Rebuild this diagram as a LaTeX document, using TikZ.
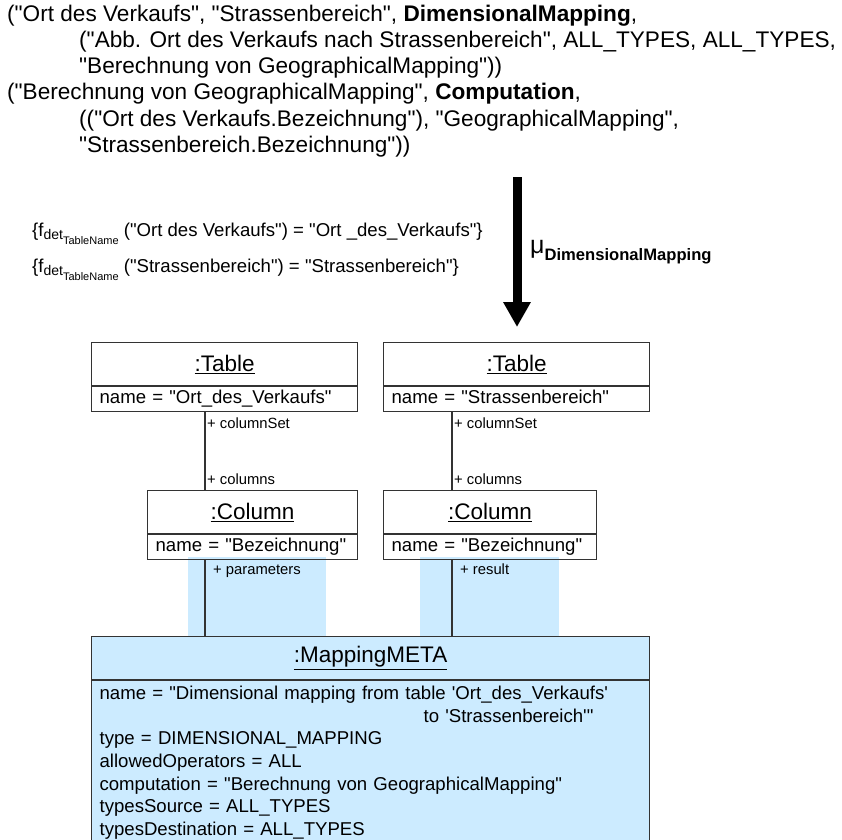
\documentclass[tikz,border=0pt]{standalone}
\usepackage{fontspec}
\setmainfont{Liberation Sans}[Ligatures=TeXOff]
\usetikzlibrary{arrows.meta}
\definecolor{umlline}{HTML}{333333}
\definecolor{metafill}{HTML}{CCEBFF}
\tikzset{>=Stealth,
  spec/.style={anchor=base west, inner sep=0pt, font=\fontsize{22.6}{27}\selectfont},
  objtitle/.style={draw=umlline, line width=1.2pt, text width=#1, align=center,
    minimum height=43pt, inner xsep=8pt, inner ysep=0pt, font=\fontsize{22.5}{27}\selectfont},
  objattr/.style={draw=umlline, line width=1.2pt, text width=#1, align=left,
    text height=13.6pt, text depth=4.2pt,
    minimum height=24.5pt, inner xsep=8pt, inner ysep=3.5pt, font=\fontsize{18.6}{22.4}\selectfont},
  metaattr/.style={draw=umlline, line width=1.2pt, text width=#1, align=left, fill=metafill,
    inner xsep=8pt, inner ysep=5.5pt, font=\fontsize{18.6}{22.6}\selectfont},
  role/.style={anchor=base west, inner sep=0pt, font=\fontsize{14.8}{16}\selectfont},
  assoc/.style={draw=umlline, line width=1.6pt},
  fline/.style={anchor=base west, inner sep=0pt, font=\fontsize{18.6}{22}\selectfont}}
\newcommand\detsub{\raisebox{-3pt}{\fontsize{14}{14}\selectfont det\raisebox{-5pt}{\fontsize{11}{11}\selectfont TableName}}}

\begin{document}
\begin{tikzpicture}[x=1pt, y=-1pt]
\clip (0,0) rectangle (842,839);

% specification of the mapping
\node[spec] (spec1) at (7,21) {("Ort des Verkaufs", "Strassenbereich", \textbf{DimensionalMapping},};
\node[spec] (spec2) at (79,47) {("Abb. Ort des Verkaufs nach Strassenbereich", ALL\_TYPES, ALL\_TYPES,};
\node[spec] (spec3) at (79,73) {"Berechnung von GeographicalMapping"))};
\node[spec] (spec4) at (7,99) {("Berechnung von GeographicalMapping", \textbf{Computation},};
\node[spec] (spec5) at (79,126) {(("Ort des Verkaufs.Bezeichnung"), "GeographicalMapping",};
\node[spec] (spec6) at (79,152) {"Strassenbereich.Bezeichnung"))};

% table names
\node[fline] (fOrt) at (32,236) {\{f\detsub{} ("Ort des Verkaufs") = "Ort \_des\_Verkaufs"\}};
\node[fline] (fStr) at (32,272) {\{f\detsub{} ("Strassenbereich") = "Strassenbereich"\}};

% transformation arrow
\coordinate (mapFrom) at (517,177);
\coordinate (mapTo) at (517,327);
\draw[line width=9pt, -{Triangle[width=26pt,length=25pt]}] (mapFrom) -- (mapTo);
\node[anchor=base west, inner sep=0pt] (muLabel) at (530,253)
  {{\fontsize{25}{25}\selectfont μ}\raisebox{-7pt}{\fontsize{16.6}{17}\selectfont\bfseries DimensionalMapping}};

% highlighted links
\fill[metafill] (188,557) rectangle (326,637);
\fill[metafill] (420,557) rectangle (559,637);

% objects
\node[objtitle=250pt, anchor=north west] (ortTitle) at (91,342) {\underline{:Table}};
\node[objattr=250pt, anchor=north] (ortAttr) at (ortTitle.south) {name = "Ort\_des\_Verkaufs"};
\node[objtitle=250pt, anchor=north west] (strTitle) at (383,342) {\underline{:Table}};
\node[objattr=250pt, anchor=north] (strAttr) at (strTitle.south) {name = "Strassenbereich"};

\node[objtitle=194pt, anchor=north west] (ortColTitle) at (147,490) {\underline{:Column}};
\node[objattr=194pt, anchor=north] (ortColAttr) at (ortColTitle.south) {name = "Bezeichnung"};
\node[objtitle=197pt, anchor=north west] (strColTitle) at (383,490) {\underline{:Column}};
\node[objattr=197pt, anchor=north] (strColAttr) at (strColTitle.south) {name = "Bezeichnung"};

\node[objtitle=542pt, fill=metafill, anchor=north west] (metaTitle) at (91,636) {\underline{:MappingMETA}};
\node[metaattr=542pt, anchor=north] (metaAttr) at (metaTitle.south)
  {name = "Dimensional mapping from table 'Ort\_des\_Verkaufs'\\
   \hspace*{324pt}to 'Strassenbereich'"\\
   type = DIMENSIONAL\_MAPPING\\
   allowedOperators = ALL\\
   computation = "Berechnung von GeographicalMapping"\\
   typesSource = ALL\_TYPES\\
   typesDestination = ALL\_TYPES};

% links
\coordinate (ortLink) at (205,0);
\coordinate (strLink) at (452,0);
\draw[assoc] (ortAttr.south -| ortLink) -- (ortColTitle.north -| ortLink);
\draw[assoc] (strAttr.south -| strLink) -- (strColTitle.north -| strLink);
\draw[assoc] (ortColAttr.south -| ortLink) -- (metaTitle.north -| ortLink);
\draw[assoc] (strColAttr.south -| strLink) -- (metaTitle.north -| strLink);

\node[role] (ortSet) at ([shift={(2,16)}]ortAttr.south -| ortLink) {+ columnSet};
\node[role] (ortCols) at ([shift={(2,-6)}]ortColTitle.north -| ortLink) {+ columns};
\node[role] (strSet) at ([shift={(2,16)}]strAttr.south -| strLink) {+ columnSet};
\node[role] (strCols) at ([shift={(2,-6)}]strColTitle.north -| strLink) {+ columns};
\node[role] (ortParam) at ([shift={(8,14)}]ortColAttr.south -| ortLink) {+ parameters};
\node[role] (strResult) at ([shift={(8,14)}]strColAttr.south -| strLink) {+ result};
\end{tikzpicture}
\end{document}
